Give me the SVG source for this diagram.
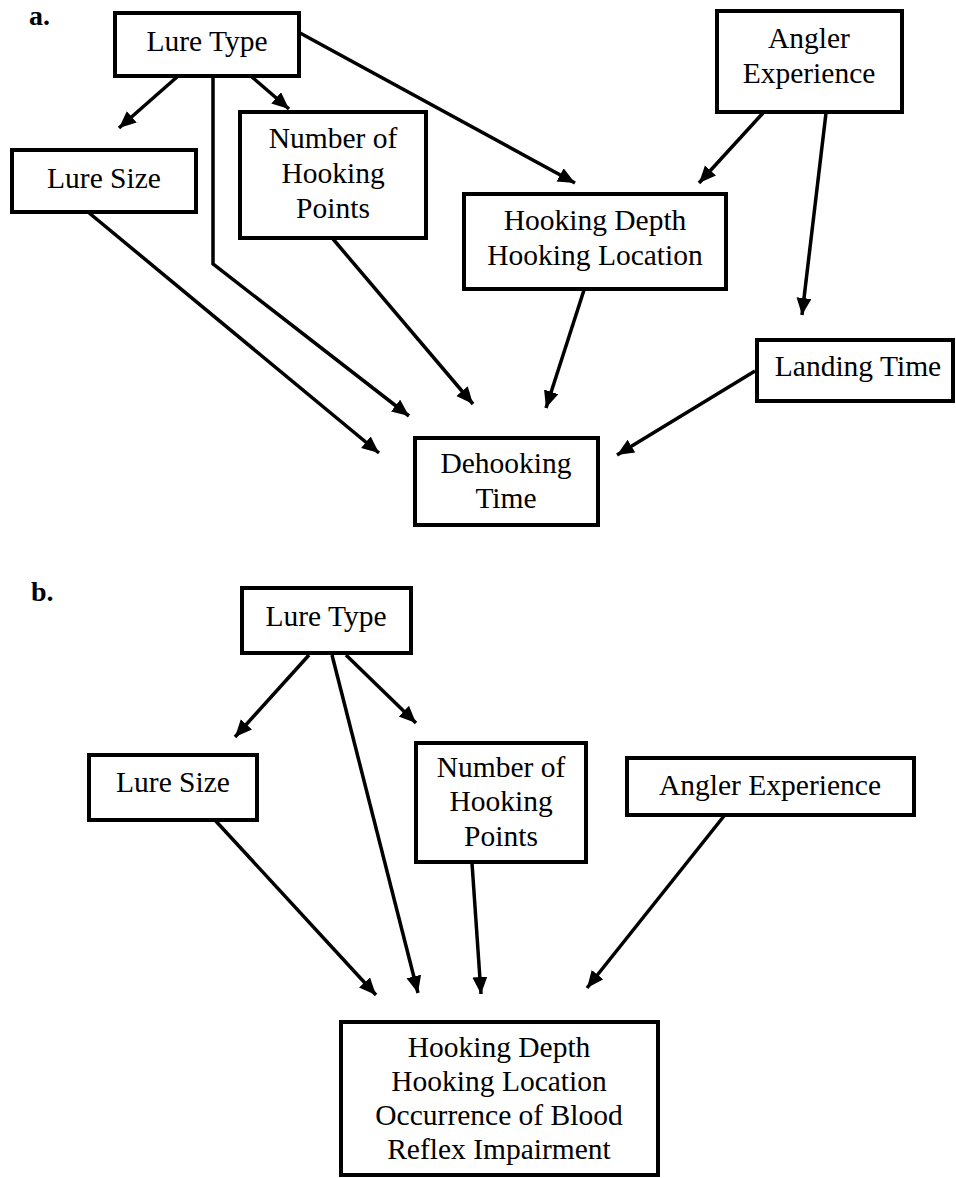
<svg xmlns="http://www.w3.org/2000/svg" width="956" height="1178" viewBox="0 0 956 1178">
<style>
.box{fill:#fff;stroke:#000;stroke-width:4}
.t{font-size:29.5px;fill:#000;text-anchor:middle}
.lbl{font-size:28px;font-weight:bold;fill:#000}
.c{fill:none;stroke:#000;stroke-width:3.5;marker-end:url(#ah)}
</style>
<defs>
<marker id="ah" markerUnits="userSpaceOnUse" markerWidth="18" markerHeight="16" refX="17" refY="7.5" orient="auto">
<path d="M0,0 L17,7.5 L0,15 z" fill="#000"/>
</marker>
</defs>
<rect width="956" height="1178" fill="#fff"/>
<g font-family="Liberation Serif, Times New Roman, serif">
<text class="lbl" x="29" y="25">a.</text>
<text class="lbl" x="31" y="601">b.</text>
</g>
<g id="connectors">
<line class="c" x1="177" y1="77" x2="119" y2="128"/>
<line class="c" x1="252" y1="77" x2="289" y2="109"/>
<polyline class="c" points="213,77 213,264 409,416"/>
<line class="c" x1="300" y1="33" x2="575" y2="183"/>
<line class="c" x1="763" y1="113" x2="699" y2="183"/>
<line class="c" x1="826" y1="113" x2="802" y2="315"/>
<line class="c" x1="88" y1="212" x2="379" y2="453"/>
<line class="c" x1="333" y1="239" x2="473" y2="404"/>
<line class="c" x1="584" y1="290" x2="546" y2="408"/>
<line class="c" x1="755" y1="371" x2="617" y2="455"/>
<line class="c" x1="309" y1="655" x2="235" y2="737"/>
<line class="c" x1="346" y1="655" x2="416" y2="723"/>
<line class="c" x1="332" y1="655" x2="418" y2="993"/>
<line class="c" x1="213" y1="818" x2="376" y2="995"/>
<line class="c" x1="472" y1="863" x2="481" y2="994"/>
<line class="c" x1="724" y1="816" x2="587" y2="988"/>
</g>
<g font-family="Liberation Serif, Times New Roman, serif">
<g id="a-lure-type"><rect class="box" x="115" y="13" width="184" height="63"/><text class="t" x="207" y="51">Lure Type</text></g>
<g id="a-lure-size"><rect class="box" x="12" y="150" width="184" height="62"/><text class="t" x="104" y="188">Lure Size</text></g>
<g id="a-hooking-points"><rect class="box" x="240" y="112" width="186" height="126"/><text class="t" x="333" y="148">Number of</text><text class="t" x="333" y="183">Hooking</text><text class="t" x="333" y="218">Points</text></g>
<g id="a-hooking-depth"><rect class="box" x="464" y="194" width="262" height="95"/><text class="t" x="595" y="230">Hooking Depth</text><text class="t" x="595" y="265">Hooking Location</text></g>
<g id="a-angler"><rect class="box" x="717" y="11" width="185" height="101"/><text class="t" x="809" y="48">Angler</text><text class="t" x="809" y="83">Experience</text></g>
<g id="a-landing"><rect class="box" x="757" y="340" width="196" height="61"/><text class="t" x="858" y="376">Landing Time</text></g>
<g id="a-dehooking"><rect class="box" x="415" y="438" width="183" height="87"/><text class="t" x="506" y="473">Dehooking</text><text class="t" x="506" y="508">Time</text></g>
<g id="b-lure-type"><rect class="box" x="242" y="588" width="169" height="65"/><text class="t" x="326" y="626">Lure Type</text></g>
<g id="b-lure-size"><rect class="box" x="89" y="755" width="168" height="65"/><text class="t" x="173" y="792">Lure Size</text></g>
<g id="b-hooking-points"><rect class="box" x="416" y="743" width="170" height="119"/><text class="t" x="501" y="777">Number of</text><text class="t" x="501" y="811">Hooking</text><text class="t" x="501" y="846">Points</text></g>
<g id="b-angler"><rect class="box" x="627" y="758" width="287" height="57"/><text class="t" x="770" y="795">Angler Experience</text></g>
<g id="b-outcome"><rect class="box" x="341" y="1022" width="317" height="153"/><text class="t" x="499" y="1057">Hooking Depth</text><text class="t" x="499" y="1091">Hooking Location</text><text class="t" x="499" y="1125">Occurrence of Blood</text><text class="t" x="499" y="1159">Reflex Impairment</text></g>
</g>
</svg>
